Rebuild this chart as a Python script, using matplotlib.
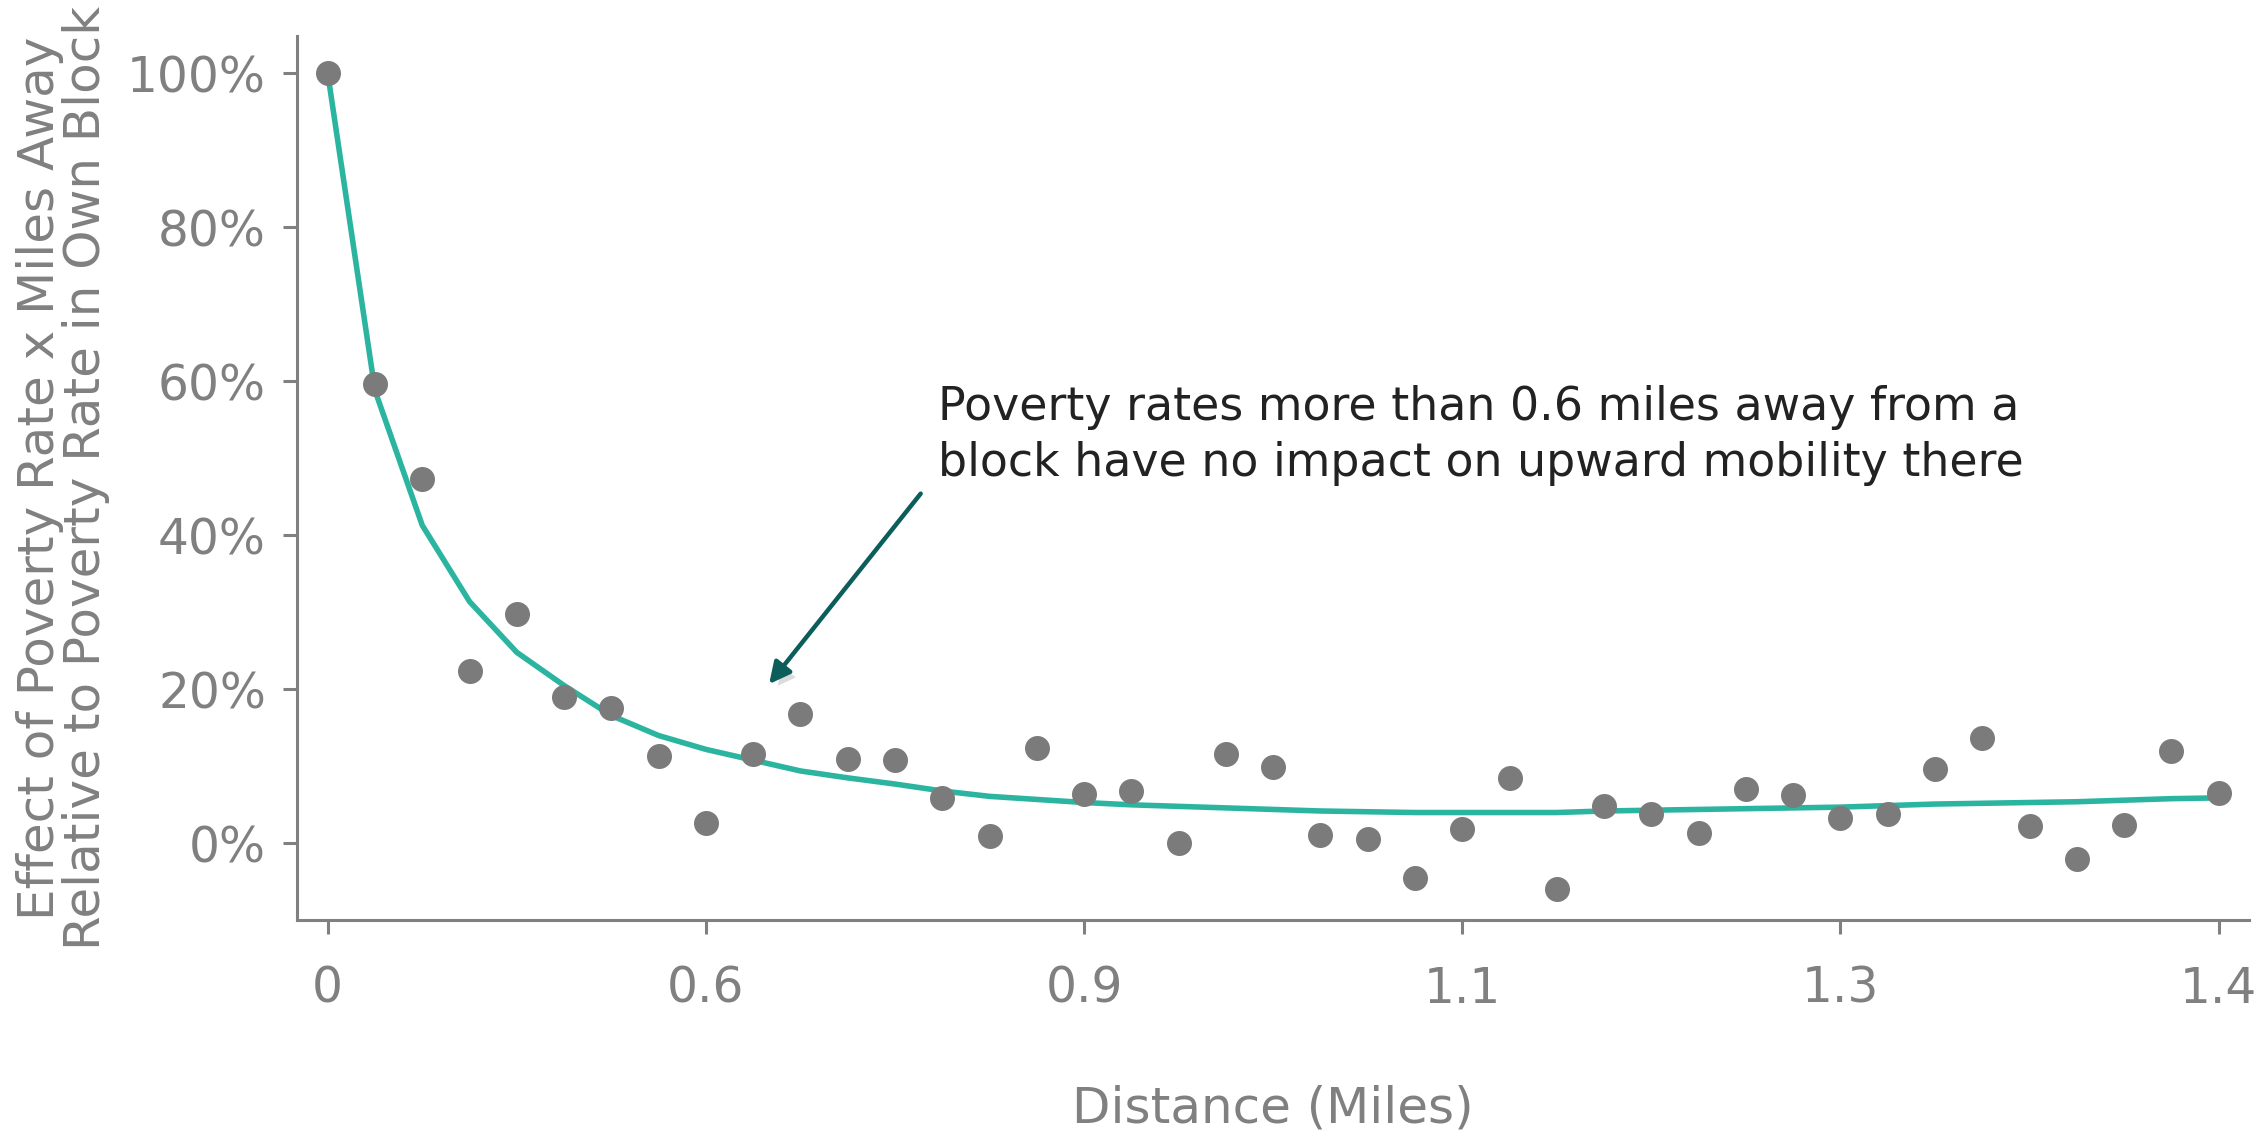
import numpy as np
import matplotlib
matplotlib.use("Agg")
import matplotlib.pyplot as plt
import matplotlib.patheffects as pe

# values (percent)
tick_labels = ["0", "0.6", "0.9", "1.1", "1.3", "1.4"]
tick_index = [0, 8, 16, 24, 32, 40]

effect_points = [100, 59.6, 47.3, 22.4, 29.8, 19.0, 17.6, 11.3, 2.6, 11.6,
                 16.8, 10.9, 10.8, 5.9, 0.9, 12.4, 6.4, 6.75, 0.0, 11.6,
                 9.85, 1.1, 0.6, -4.5, 1.9, 8.5, -5.9, 4.8, 3.75, 1.4,
                 7.0, 6.3, 3.3, 3.85, 9.7, 13.7, 2.3, -2.0, 2.4, 12.0, 6.6]

fitted_curve = [100, 58.8, 41.3, 31.4, 24.8, 20.5, 16.6, 14.0, 12.2, 10.8,
                9.4, 8.5, 7.7, 6.8, 6.1, 5.7, 5.3, 5.0, 4.8, 4.6,
                4.4, 4.2, 4.1, 4.0, 4.0, 4.0, 4.0, 4.2, 4.3, 4.4,
                4.5, 4.6, 4.7, 4.9, 5.1, 5.2, 5.3, 5.4, 5.6, 5.8, 5.9]

x = np.arange(len(effect_points))

plt.rcParams["font.family"] = ["DejaVu Sans"]
gray = "#808080"

fig = plt.figure(figsize=(22.67, 11.39), dpi=100)
ax = fig.add_axes([0.1308, 0.192, 0.8612, 0.776])

ax.plot(x, fitted_curve, color="#2bb5a0", lw=4, zorder=2)
ax.plot(x, effect_points, "o", color="#7b7b7b", ms=18, mec="none", zorder=3)

ax.set_xlim(-0.66, 40.64)
ax.set_ylim(-10, 104.8)
ax.set_xticks(tick_index)
ax.set_xticklabels(tick_labels)
ax.set_yticks([0, 20, 40, 60, 80, 100])
ax.set_yticklabels(["0%", "20%", "40%", "60%", "80%", "100%"])

for s in ["top", "right"]:
    ax.spines[s].set_visible(False)
for s in ["left", "bottom"]:
    ax.spines[s].set_color(gray)
    ax.spines[s].set_linewidth(2.2)

ax.tick_params(axis="both", colors=gray, labelsize=35, length=10, width=2.2)
ax.tick_params(axis="x", pad=22)
ax.tick_params(axis="y", pad=12)

ax.set_xlabel("Distance (Miles)", fontsize=36, color=gray, labelpad=52)
ax.set_ylabel("Effect of Poverty Rate x Miles Away\nRelative to Poverty Rate in Own Block",
              fontsize=36, color=gray, linespacing=0.95, labelpad=12)

ax.text(12.9, 53, "Poverty rates more than 0.6 miles away from a\nblock have no impact on upward mobility there",
        fontsize=33, color="#222222", ha="left", va="center", linespacing=1.3)

ax.annotate("", xy=(9.3, 20.4), xytext=(12.58, 45.7),
            arrowprops=dict(arrowstyle="-|>", color="#0b5e59", lw=3.2,
                            mutation_scale=32,
                            path_effects=[pe.SimplePatchShadow(offset=(4, -4), shadow_rgbFace="#999999", alpha=0.35),
                                          pe.Normal()]))

fig.savefig("out.png", dpi=100)
